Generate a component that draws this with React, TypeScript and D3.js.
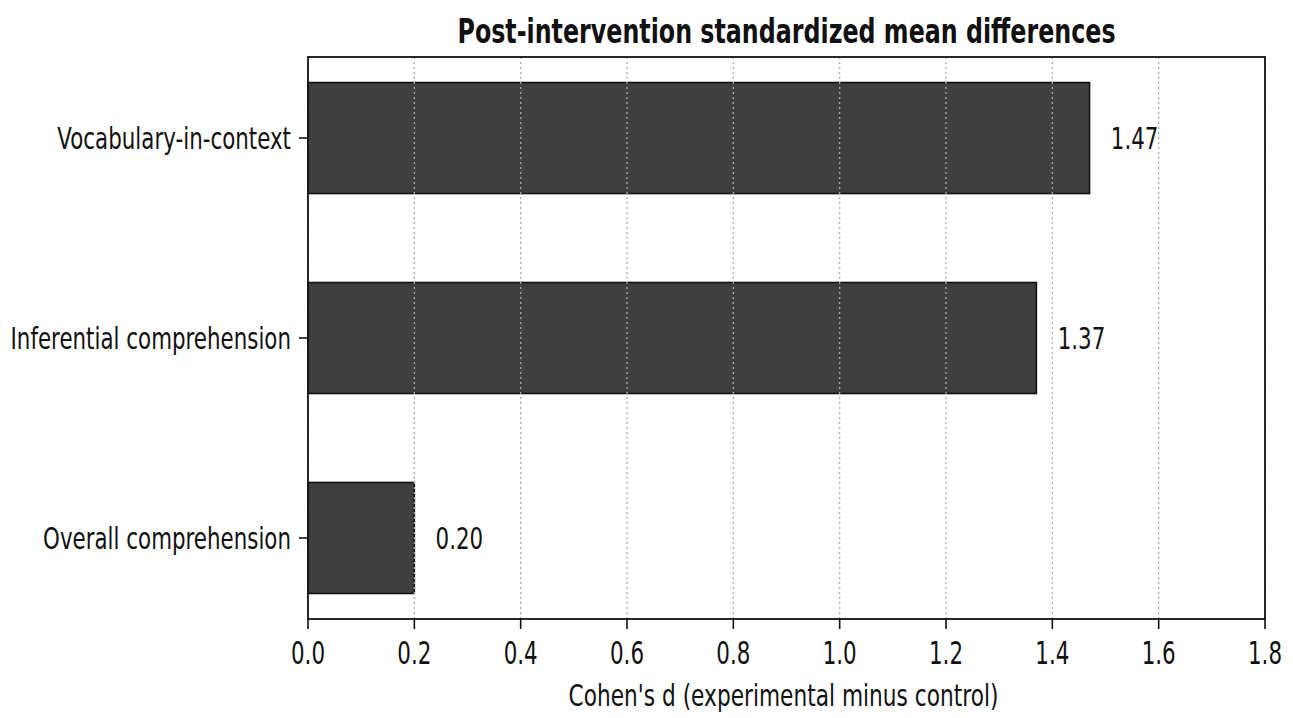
import React from "react";
import * as d3 from "d3";

const categories = ["Overall comprehension", "Inferential comprehension", "Vocabulary-in-context"];
const values = [0.2, 1.37, 1.47];
const valueLabels = ["0.20", "1.37", "1.47"];
const xTicks = [0, 0.2, 0.4, 0.6, 0.8, 1.0, 1.2, 1.4, 1.6, 1.8];
const title = "Post-intervention standardized mean differences";
const xLabel = "Cohen's d (experimental minus control)";

const W = 1293;
const H = 718;
const margin = { left: 308, right: 28, top: 57, bottom: 99 };
const FONT = "'DejaVu Sans', sans-serif";
const barH = 0.555;

function SText({ x, y, anchor, size, weight, sx, children }: any) {
  return (
    <g transform={`translate(${x},${y}) scale(${sx || 0.69},1)`}>
      <text
        x={0}
        y={0}
        textAnchor={anchor}
        fontSize={size}
        fontWeight={weight || "normal"}
        fontFamily={FONT}
        fill="#111"
      >
        {children}
      </text>
    </g>
  );
}

export default function App() {
  const x = d3.scaleLinear().domain([0, 1.8]).range([margin.left, W - margin.right]);
  const pad = 0.05 * (categories.length - 1 + barH);
  const y = d3
    .scaleLinear()
    .domain([-barH / 2 - pad, categories.length - 1 + barH / 2 + pad])
    .range([H - margin.bottom, margin.top]);
  const x0 = x.range()[0];
  const x1 = x.range()[1];
  const y0 = y.range()[0];
  const y1 = y.range()[1];

  return (
    <svg
      width={W}
      height={H}
      style={{ position: "fixed", left: 0, top: 0, background: "#fff" }}
    >
      <rect x={0} y={0} width={W} height={H} fill="#fff" />
      {values.map((v, i) => (
        <rect
          key={i}
          x={x(0)}
          y={y(i + barH / 2)}
          width={x(v) - x(0)}
          height={y(i - barH / 2) - y(i + barH / 2)}
          fill="#3f3f3f"
          stroke="#111"
          strokeWidth={1.6}
        />
      ))}
      {xTicks.map((t, i) => (
        <line
          key={i}
          x1={x(t)}
          x2={x(t)}
          y1={y1}
          y2={y0}
          stroke="#aaaaaa"
          strokeWidth={1.3}
          strokeDasharray="2,3"
        />
      ))}
      <rect x={x0} y={y1} width={x1 - x0} height={y0 - y1} fill="none" stroke="#111" strokeWidth={1.8} />
      {xTicks.map((t, i) => (
        <g key={i}>
          <line x1={x(t)} x2={x(t)} y1={y0} y2={y0 + 10} stroke="#111" strokeWidth={1.6} />
          <SText x={x(t)} y={664} anchor="middle" size={32} sx={0.67}>
            {t.toFixed(1)}
          </SText>
        </g>
      ))}
      {categories.map((c, i) => (
        <g key={i}>
          <line x1={x0 - 9} x2={x0} y1={y(i)} y2={y(i)} stroke="#111" strokeWidth={1.6} />
          <SText x={x0 - 17} y={y(i) + 11} anchor="end" size={31} sx={0.69}>
            {c}
          </SText>
        </g>
      ))}
      {values.map((v, i) => (
        <SText key={i} x={x(v + 0.04)} y={y(i) + 11} anchor="start" size={31} sx={0.69}>
          {valueLabels[i]}
        </SText>
      ))}
      <SText x={(x0 + x1) / 2} y={43} anchor="middle" size={33} weight="bold" sx={0.72}>
        {title}
      </SText>
      <SText x={(x0 + x1) / 2 - 3} y={706} anchor="middle" size={31} sx={0.7}>
        {xLabel}
      </SText>
    </svg>
  );
}
